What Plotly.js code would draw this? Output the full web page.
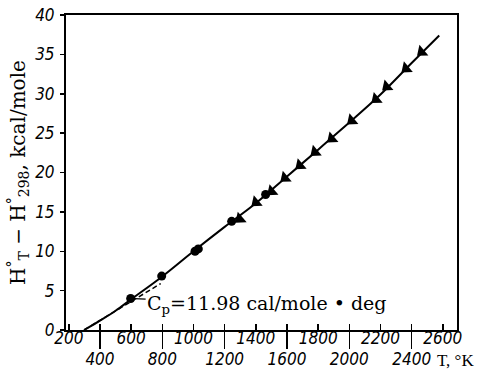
<!DOCTYPE html>
<html>
<head>
<meta charset="utf-8">
<script src="https://cdn.plot.ly/plotly-3.0.1.min.js"></script>
<style>html,body{margin:0;padding:0;background:#fff;}#chart{width:483px;height:369px;}</style>
</head>
<body>
<div id="chart"></div>
<script>
// ---- data ----
const curveT = [298, 400, 500, 600, 800, 1000, 1200, 1400, 1600, 1800, 2000, 2200, 2400, 2577];
const curveH = [0, 1.2, 2.45, 3.9, 6.8, 10.0, 13.1, 16.1, 19.5, 22.9, 26.35, 29.9, 33.9, 37.4];
const circleT = [597, 796, 1010, 1031, 1245, 1463];
const circleH = [4.0, 6.85, 10.0, 10.3, 13.8, 17.2];
const triT = [1298, 1401, 1502, 1587, 1683, 1780, 1887, 2015, 2171, 2240, 2364, 2464];
const triH = [14.1, 16.2, 17.6, 19.3, 20.9, 22.6, 24.3, 26.6, 29.3, 30.9, 33.2, 35.3];
const cpLineT = [298, 790];
const cpLineH = [0, 5.9];
const xTicksUpper = [200, 600, 1000, 1400, 1800, 2200, 2600];
const xTicksLower = [400, 800, 1200, 1600, 2000, 2400];
const yTicks = [0, 5, 10, 15, 20, 25, 30, 35, 40];
const cpLabel = 'C<sub>p</sub>=11.98 cal/mole • deg';
const cpAt = [600, 4.0];
const yTitle = 'H<sup>°</sup><sub>T</sub> − H<sup>°</sup><sub>298</sub>, kcal/mole';
const xTitle = 'T, °K';

const tickFont = {family: '"Liberation Sans Narrow", "DejaVu Sans Condensed", "Liberation Sans", sans-serif', style: 'italic', size: 17, color: '#000'};
const serif = '"DejaVu Serif", "Liberation Serif", serif';
const ital = v => '<i>' + v + '</i>';
const xRange = [182, 2691];

const traces = [
  {x: cpLineT, y: cpLineH, mode: 'lines', line: {color: '#000', width: 1.5, dash: '5px,3px'}, hoverinfo: 'skip'},
  {x: curveT, y: curveH, mode: 'lines', line: {color: '#000', width: 2, shape: 'spline'}, hoverinfo: 'skip'},
  {x: circleT, y: circleH, mode: 'markers', marker: {symbol: 'circle', size: 9, color: '#000'}},
  {x: triT, y: triH, mode: 'markers', marker: {symbol: 'triangle-left', size: 12, color: '#000', angle: -40}},
  {x: [xRange[0]], y: [null], xaxis: 'x2', mode: 'markers', hoverinfo: 'skip'}
];

const layout = {
  width: 483, height: 369,
  margin: {l: 66, r: 26, t: 15, b: 39},
  paper_bgcolor: '#fff', plot_bgcolor: '#fff',
  showlegend: false,
  xaxis: {
    range: xRange, tickmode: 'array', tickvals: xTicksUpper, ticktext: xTicksUpper.map(ital),
    ticks: 'inside', ticklen: 6, tickwidth: 1.5, tickcolor: '#000',
    minor: {tickmode: 'array', tickvals: xTicksLower, ticks: 'inside', ticklen: 6, tickwidth: 1.5, tickcolor: '#000'},
    showline: true, linewidth: 2, linecolor: '#000', mirror: true,
    showgrid: false, zeroline: false, tickfont: tickFont, ticklabelstandoff: -8
  },
  xaxis2: {
    overlaying: 'x', anchor: 'y', side: 'bottom', range: xRange,
    tickmode: 'array', tickvals: xTicksLower, ticktext: xTicksLower.map(ital),
    ticks: 'outside', ticklen: 18, tickwidth: 1.5, tickcolor: '#000',
    showline: false, showgrid: false, zeroline: false, tickfont: tickFont, ticklabelstandoff: -4
  },
  yaxis: {
    range: [0, 40], tickmode: 'array', tickvals: yTicks, ticktext: yTicks.map(ital),
    ticks: 'outside', ticklen: 4, tickwidth: 1.5, tickcolor: '#000',
    showline: true, linewidth: 2, linecolor: '#000', mirror: true,
    showgrid: false, zeroline: false, tickfont: tickFont, ticklabelstandoff: 2,
    title: {text: yTitle, font: {family: serif, size: 20, color: '#000'}, standoff: 4}
  },
  annotations: [
    {x: cpAt[0], y: cpAt[1], xref: 'x', yref: 'y', text: cpLabel, showarrow: true,
     arrowhead: 0, arrowwidth: 1.2, arrowcolor: '#000', ax: 136, ay: 6, standoff: 3,
     font: {family: serif, size: 19, color: '#000'}},
    {x: 0.946, y: -0.098, xref: 'paper', yref: 'paper', xanchor: 'left', yanchor: 'middle',
     text: xTitle, showarrow: false, borderpad: 0, font: {family: '"Liberation Serif", serif', size: 17, color: '#000'}}
  ]
};

Plotly.newPlot('chart', traces, layout, {staticPlot: true, displayModeBar: false});
</script>
</body>
</html>
